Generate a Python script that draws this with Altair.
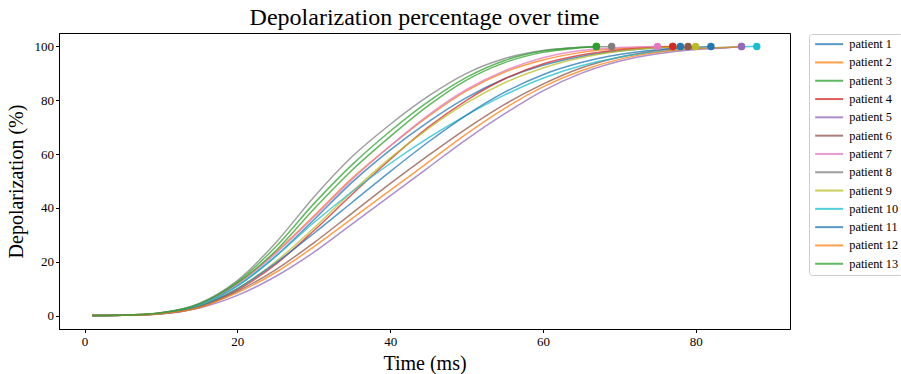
import altair as alt
import pandas as pd

patients = [f"patient {i}" for i in range(1, 14)]
colors = ["#1f77b4", "#ff7f0e", "#2ca02c", "#d62728", "#9467bd", "#8c564b",
          "#e377c2", "#7f7f7f", "#bcbd22", "#17becf", "#1f77b4", "#ff7f0e", "#2ca02c"]

times = [1, 5, 10, 15, 20, 25, 30, 35, 40, 45, 50, 55, 60, 65, 70, 75, 80, 85]
end_times = [78, 77, 67, 77, 86, 79, 75, 69, 80, 88, 82, 86, 67]

p1 = [0, 0.1, 0.9, 3.8, 11, 22, 35.5, 49.5, 61.5, 72, 81, 88, 93, 96.3, 98.3, 99.5]
p2 = [0, 0.1, 1.0, 4.2, 12, 23.5, 37, 51, 63, 74, 83.5, 90.5, 95, 97.8, 99.2, 99.8]
p3 = [0, 0.1, 0.9, 4.0, 12, 24, 39.5, 54, 66.5, 78, 87.5, 94, 97.8, 99.5]
p4 = [0, 0.1, 0.8, 3.5, 9.5, 19, 31.5, 45, 58, 70, 80, 88, 93.5, 96.8, 98.8, 99.7]
p5 = [0, 0.1, 0.6, 2.8, 7.5, 14.5, 23.5, 34, 44.5, 55, 65.5, 75, 83.5, 90, 94.5, 97.3, 98.9, 99.7]
p6 = [0, 0.1, 0.7, 3.0, 9, 17, 27, 38, 49, 59.5, 69.5, 78.5, 86, 92, 96, 98.5]
p7 = [0, 0.1, 0.9, 4.0, 11.5, 23, 36.5, 50.5, 63, 74.5, 84, 91, 95.8, 98.5, 99.6]
p8 = [0, 0.1, 1.0, 4.5, 13, 27, 44, 59, 71, 81.5, 90, 95.5, 98.5, 99.7]
p9 = [0, 0.1, 0.8, 3.6, 10, 20, 32.5, 46, 58.5, 69.5, 79, 86.5, 92, 95.8, 98.2, 99.5]
p10 = [0, 0.1, 0.9, 3.9, 11, 22, 34.5, 46, 56.5, 66, 74.5, 82, 88.2, 92.8, 96, 98, 99.2, 99.8]
p11 = [0, 0.1, 0.8, 3.4, 10, 19.5, 30.5, 42, 53.5, 64.5, 74.5, 83, 89.5, 94, 97, 98.8, 99.7]
p12 = [0, 0.1, 0.7, 3.0, 8.5, 16, 25.5, 36, 46.5, 57, 67.5, 77, 85, 91, 95.2, 97.8, 99.2, 99.8]
p13 = [0, 0.1, 1.0, 4.3, 12.5, 25.5, 41.5, 56, 68.5, 79.5, 88.5, 94.8, 98.3, 99.7]

series = [p1, p2, p3, p4, p5, p6, p7, p8, p9, p10, p11, p12, p13]
dot_order = [12, 1, 2, 3, 4, 5, 6, 7, 8, 9, 10, 11, 13]

rows = []
for name, vals, end in zip(patients, series, end_times):
    for t, v in zip(times, vals):
        rows.append({"patient": name, "time": t, "value": v})
    rows.append({"patient": name, "time": end, "value": 100})
df = pd.DataFrame(rows)

dots = pd.DataFrame([{"patient": patients[i - 1], "time": end_times[i - 1], "value": 100}
                     for i in dot_order])

color_scale = alt.Scale(domain=patients, range=colors)
x_enc = alt.X("time:Q", scale=alt.Scale(domain=[-3.35, 92.35], nice=False, zero=False),
              axis=alt.Axis(values=[0, 20, 40, 60, 80], title="Time (ms)", labelPadding=3,
                            titlePadding=5))
y_enc = alt.Y("value:Q", scale=alt.Scale(domain=[-5, 105], nice=False, zero=False),
              axis=alt.Axis(values=[0, 20, 40, 60, 80, 100], title="Depolarization (%)",
                            labelPadding=2, titlePadding=8))

lines = alt.Chart(df).mark_line(strokeWidth=1.5, opacity=0.75, interpolate="monotone").encode(
    x=x_enc, y=y_enc,
    color=alt.Color("patient:N", scale=color_scale, sort=patients,
                    legend=alt.Legend(title=None, orient="none", legendX=750, legendY=1,
                                      symbolType="M-1,0L6,0", symbolSize=64, symbolStrokeWidth=2,
                                      symbolOpacity=0.75, labelFontSize=12.3, labelOffset=24,
                                      rowPadding=5.3, padding=4, strokeColor="#cccccc",
                                      cornerRadius=3, fillColor="white",
                                      labelFont="Liberation Serif", labelColor="black")),
    order=alt.Order("time:Q")
)

points = alt.Chart(dots).mark_circle(size=55, opacity=1).encode(
    x=x_enc, y=y_enc,
    color=alt.Color("patient:N", scale=color_scale, legend=None)
)

chart = alt.layer(lines, points).properties(
    width=731, height=296,
    title=alt.Title("Depolarization percentage over time", font="Liberation Serif",
                    fontSize=24, fontWeight="normal", color="black", offset=3),
    autosize=alt.AutoSizeParams(type="none"),
    padding={"left": 59, "top": 33, "right": 111, "bottom": 45}
).configure_view(stroke="black", strokeWidth=1).configure_axis(
    labelFont="Liberation Serif", labelFontSize=13, labelColor="black",
    tickColor="black", domainColor="black", tickSize=3.5, grid=False,
    titleFont="Liberation Serif", titleFontSize=20, titleFontWeight="normal", titleColor="black"
)

chart.save("out.html", embed_options={"renderer": "svg", "actions": False})
